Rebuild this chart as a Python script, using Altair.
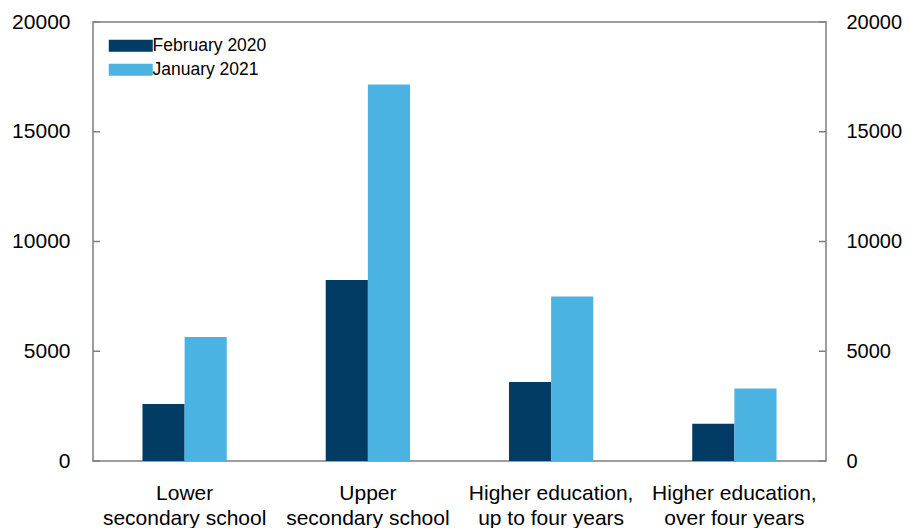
import altair as alt
import pandas as pd

categories = ["Lower|secondary school", "Upper|secondary school",
              "Higher education,|up to four years", "Higher education,|over four years"]
series = ["February 2020", "January 2021"]
feb2020 = [2600, 8250, 3600, 1700]
jan2021 = [5650, 17150, 7500, 3300]
colors = ["#023b64", "#4ab3e2"]
y_ticks = [0, 5000, 10000, 15000, 20000]

rows = []
for c, a, b in zip(categories, feb2020, jan2021):
    rows.append({"category": c, "series": series[0], "value": a})
    rows.append({"category": c, "series": series[1], "value": b})
df = pd.DataFrame(rows)
tick_df = pd.DataFrame({"v": y_ticks})

W, H = 733, 439
FONT = "Liberation Sans"
GRAY = "#7f7f7f"
yscale = alt.Scale(domain=[0, 20000], nice=False)

x_enc = alt.X("category:N", sort=categories,
              scale=alt.Scale(paddingInner=0.54, paddingOuter=0.27),
              axis=alt.Axis(title=None, labelAngle=0, ticks=False, domain=False,
                            labelPadding=21, labelFontSize=21, labelLineHeight=25,
                            labelColor="black", labelFont=FONT,
                            labelExpr="split(datum.label, '|')"))

bars = alt.Chart(df).mark_bar().encode(
    x=x_enc,
    xOffset=alt.XOffset("series:N", sort=series,
                        scale=alt.Scale(paddingInner=0, paddingOuter=0)),
    y=alt.Y("value:Q", scale=yscale,
            axis=alt.Axis(orient="left", values=y_ticks, format="d", title=None,
                          ticks=False, domain=False, grid=False, labelPadding=23,
                          labelFontSize=21, labelFont=FONT, labelColor="black")),
    color=alt.Color("series:N", scale=alt.Scale(domain=series, range=colors),
                    legend=alt.Legend(orient="none", legendX=42, legendY=15,
                                      title=None, padding=0,
                                      symbolType="M-5.83,-1L1.5,-1L1.5,1L-5.83,1Z",
                                      symbolSize=144, symbolStrokeWidth=0,
                                      symbolOpacity=1,
                                      labelFontSize=17.5, labelFont=FONT,
                                      labelColor="black", labelOffset=0,
                                      rowPadding=5)),
)

left_ticks = alt.Chart(tick_df).mark_rule(color=GRAY, strokeWidth=1.5).encode(
    y=alt.Y("v:Q", scale=yscale, axis=None),
    x=alt.value(0), x2=alt.value(7),
)

right_ticks = alt.Chart(tick_df).mark_rule(color=GRAY, strokeWidth=1.5).encode(
    y=alt.Y("v:Q", scale=yscale,
            axis=alt.Axis(orient="right", values=y_ticks, format="d", title=None,
                          ticks=False, domain=False, grid=False, labelPadding=20,
                          labelFontSize=20, labelFont=FONT, labelColor="black")),
    x=alt.value(W - 7), x2=alt.value(W),
)

chart = alt.layer(bars, left_ticks, right_ticks).resolve_scale(
    y="independent"
).properties(
    width=W, height=H,
    autosize=alt.AutoSizeParams(type="none"),
    padding={"left": 85, "top": 14, "right": 76, "bottom": 67},
).configure_view(stroke=GRAY, strokeWidth=1.5)

chart.save("out.html", embed_options={"renderer": "svg", "actions": False})
